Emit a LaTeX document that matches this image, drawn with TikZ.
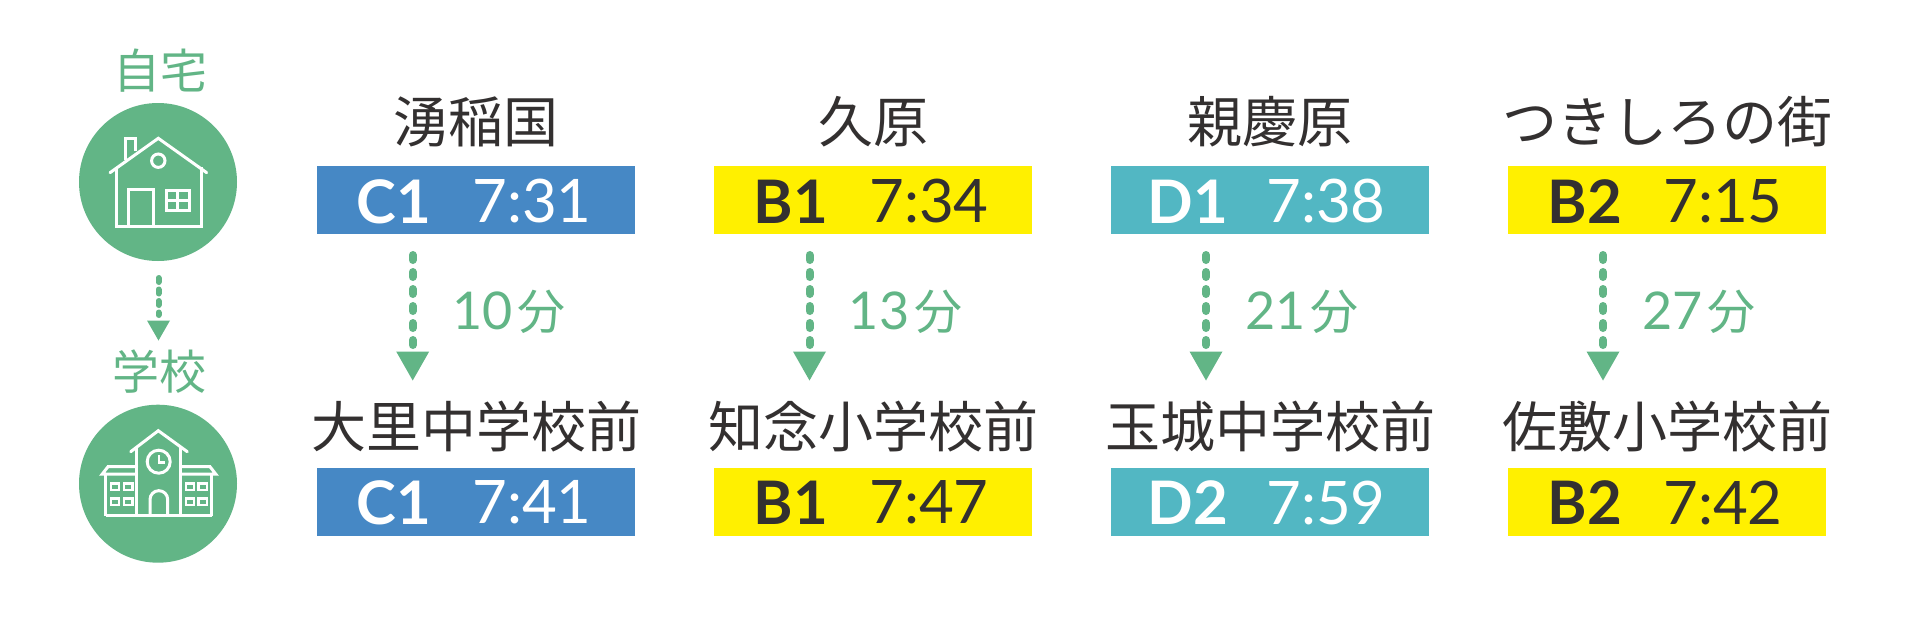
\documentclass[tikz,border=0pt]{standalone}
\usepackage{fontspec}
\newfontfamily\cjk{Noto Sans CJK JP}
\newfontfamily\latinf{Lato}
\definecolor{grn}{HTML}{62B586}
\definecolor{blu}{HTML}{4688C5}
\definecolor{yel}{HTML}{FFF000}
\definecolor{tealb}{HTML}{52B7C3}
\definecolor{ink}{HTML}{333030}
\tikzset{x=1pt,y=-1pt,
 station/.style={font=\fontsize{55}{55}\cjk,text=ink,inner sep=0pt},
 place/.style={font=\fontsize{47}{47}\cjk,text=grn,inner sep=0pt},
 mins/.style={font=\fontsize{52}{52}\latinf,text=grn,inner sep=0pt,anchor=base},
 band/.style={minimum width=318pt,minimum height=68pt,inner sep=0pt},
 routelabel/.style={font=\fontsize{60}{60}\latinf\bfseries,inner sep=0pt},
 timelabel/.style={font=\fontsize{60}{60}\latinf,inner sep=0pt},
 flow/.style={grn,line width=8pt,line cap=round,dash pattern=on 5pt off 12pt},
 smallflow/.style={grn,line width=6pt,line cap=round,dash pattern=on 4pt off 7.5pt},
 headtip/.style={fill=grn,draw=none},
 badge/.style={circle,fill=grn,minimum size=158pt,inner sep=0pt},
 ic/.style={draw=white,line width=3pt},
 icthin/.style={draw=white,line width=2.4pt}
}
\begin{document}
\begin{tikzpicture}
\useasboundingbox (0,0) rectangle (1920,635);
\fill[white] (0,0) rectangle (1920,635);
\foreach \id/\cx/\cl/\tx/\lab/\tmA/\tmB/\labB/\up/\down/\mn/\ax in {
 a/476/blu/white/C1/7:31/7:41/C1/湧稲国/大里中学校前/10/412.7,
 b/873/yel/ink/B1/7:34/7:47/B1/久原/知念小学校前/13/809.5,
 c/1270/tealb/white/D1/7:38/7:59/D2/親慶原/玉城中学校前/21/1206,
 d/1667/yel/ink/B2/7:15/7:42/B2/つきしろの街/佐敷小学校前/27/1603}{
 \node[band,fill=\cl] (top\id) at (\cx,200) {};
 \node[band,fill=\cl] (bot\id) at (\cx,501.5) {};
 \node[station] (from\id) at (\cx,122) {\up};
 \node[station] (to\id) at (\cx,427) {\down};
 \node[routelabel,text=\tx] (rt\id) at (\cx-82,201.5) {\lab};
 \node[timelabel,text=\tx] (tt\id) at (\cx+56,201.5) {\tmA};
 \node[routelabel,text=\tx] (rb\id) at (\cx-82,502.5) {\labB};
 \node[timelabel,text=\tx] (tb\id) at (\cx+56,502.5) {\tmB};
 \node[mins] (m\id) at (\ax+96,329) {\mn\kern5pt{\cjk\fontsize{48}{48}\selectfont 分}};
 \coordinate (s\id) at (\ax,255);
 \coordinate (e\id) at (\ax,345);
 \draw[flow] (s\id) -- (e\id);
 \fill[headtip] (\ax-16.5,351.5) -- (\ax+16.5,351.5) -- (\ax,380.5) -- cycle;
}
% left column
\node[place] (home) at (160.5,71) {自宅};
\node[place] (school) at (159,372) {学校};
\node[badge] (homec) at (158,182) {};
\node[badge] (schoolc) at (158,483.7) {};
\coordinate (ls) at (158.5,278);
\coordinate (le) at (158.5,315);
\draw[smallflow] (ls) -- (le);
\fill[headtip] (147,320.5) -- (170,320.5) -- (158.5,340.5) -- cycle;
% house icon
\draw[ic,line cap=round] (110,172.7) -- (158.3,138.3) -- (206.7,172.7);
\draw[ic] (116.7,167) -- (116.7,226) -- (201,226) -- (201,167);
\draw[ic] (125,160) -- (125,138.5) -- (135,138.5) -- (135,151);
\draw[ic] (128.3,226) -- (128.3,189) -- (153.3,189) -- (153.3,226);
\draw[ic] (158.3,160.7) circle (6.7);
\draw[ic] (166,190) rectangle (189,210.7);
\draw[icthin] (177.5,190) -- (177.5,210.7) (166,200.3) -- (189,200.3);
% school icon
\draw[ic,line cap=round] (130.7,451.7) -- (158.3,430.7) -- (187.3,451.7);
\draw[ic] (136.7,447) -- (136.7,515.7) (180.7,447) -- (180.7,515.7);
\draw[ic] (158.7,461.7) circle (11.5);
\draw[icthin] (158.7,455) -- (158.7,462.5) -- (165,462.5);
\draw[ic] (105.7,515.7) -- (211.7,515.7);
\draw[ic,line cap=round] (136.7,466.7) -- (108,466.7) -- (102.3,474) -- (136.7,474);
\draw[ic,line cap=round] (180.7,466.7) -- (210,466.7) -- (215.7,474) -- (180.7,474);
\draw[ic] (105.7,474) -- (105.7,515.7) (211.7,474) -- (211.7,515.7);
\draw[ic] (150,515.7) -- (150,499.5) arc (180:360:8.85) -- (167.7,515.7);
\foreach \bx in {110.7,124,185.7,198.3}{
  \foreach \by in {483.3,498.3}{
    \draw[icthin] (\bx,\by) rectangle ++(8.5,6.7);
  }
}
\end{tikzpicture}
\end{document}
